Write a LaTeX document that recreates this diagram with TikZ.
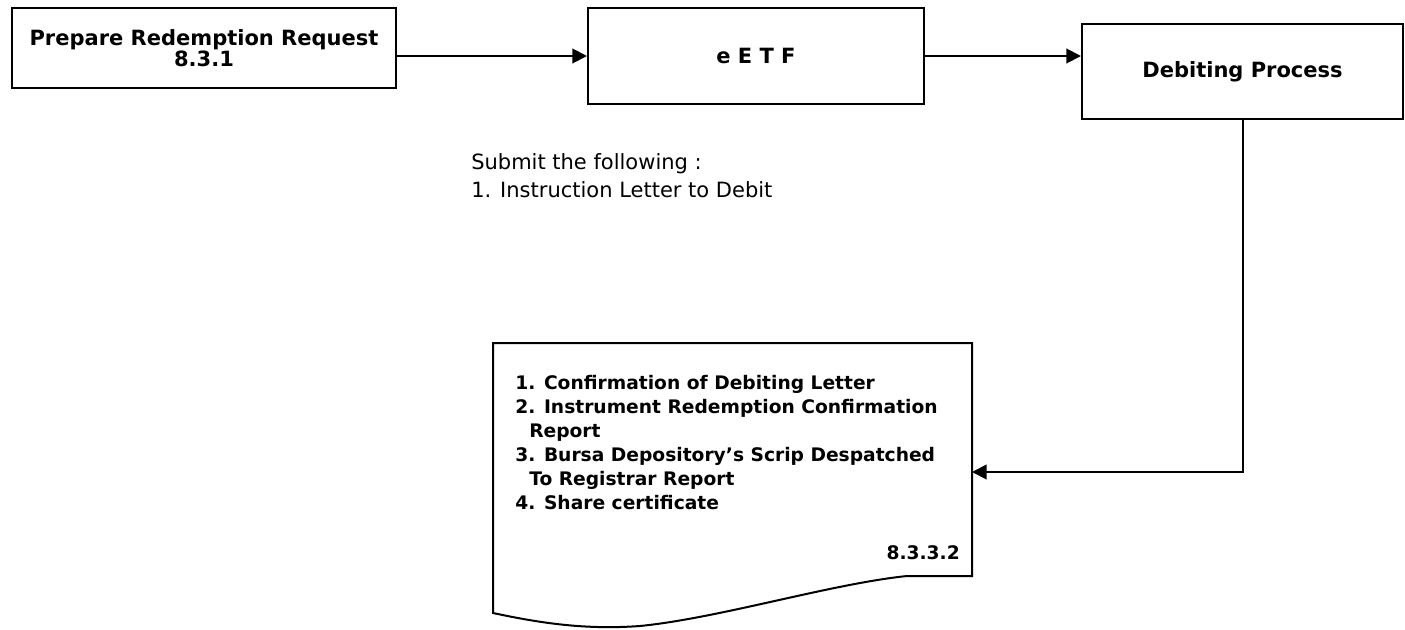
\documentclass[tikz,border=0pt]{standalone}
\usepackage{fontspec}
\setmainfont{DejaVu Sans}
\usetikzlibrary{arrows.meta, positioning}

\tikzset{
  procbox/.style={draw, line width=1.5pt, inner sep=0pt, align=center,
    font=\fontsize{15.75}{15}\selectfont\bfseries},
  flow/.style={line width=1.5pt, -{Triangle[length=11pt,width=11pt]}},
  listtext/.style={inner sep=0pt, align=left, font=\fontsize{14}{18}\selectfont\bfseries},
  notetext/.style={inner sep=0pt, align=left, font=\fontsize{15.75}{21}\selectfont},
}

\begin{document}
\begin{tikzpicture}[x=0.75pt, y=-0.75pt]
        \useasboundingbox (0,0) rectangle (1405,629);

        % Process boxes along the top
        \node[procbox, minimum width=288pt, minimum height=60pt] (prepare) at (204,48)
             {Prepare Redemption Request\\[1pt]8.3.1};
        \node[procbox, minimum width=252pt, minimum height=72pt] (eetf) at (756,56) {e E T F};
        \node[procbox, minimum width=240.75pt, minimum height=71.25pt] (debit) at (1242.5,71.5)
             {Debiting Process};

        % Note under the eETF box
        \node[notetext, anchor=north west] (note) at (471,153)
             {Submit the following :\\1. Instruction Letter to Debit};

        % Document shape (wavy bottom edge)
        \draw[line width=1.5pt] (907,576) -- (972,576) -- (972,343) -- (493,343) -- (493,613)
             .. controls (540,623) and (585,630) .. (640,626)
             .. controls (720,618) and (830,584) .. (907,576);
        \coordinate (docin) at (972,472);

        % Document contents
        \node[listtext, anchor=north west] (doclist) at (515,375)
             {1. Confirmation of Debiting Letter\\
              2. Instrument Redemption Confirmation\\
              \hspace*{10.5pt}Report\\
              3. Bursa Depository’s Scrip Despatched\\
              \hspace*{10.5pt}To Registrar Report\\
              4. Share certificate};
        \node[listtext, anchor=base east] (docref) at (960,559) {8.3.3.2};

        % Flow arrows
        \draw[flow] (prepare.east |- eetf.west) -- (eetf.west);
        \draw[flow] (eetf.east) -- (eetf.east -| debit.west);
        \draw[flow] (debit.south) |- (docin);
    \end{tikzpicture}
\end{document}
